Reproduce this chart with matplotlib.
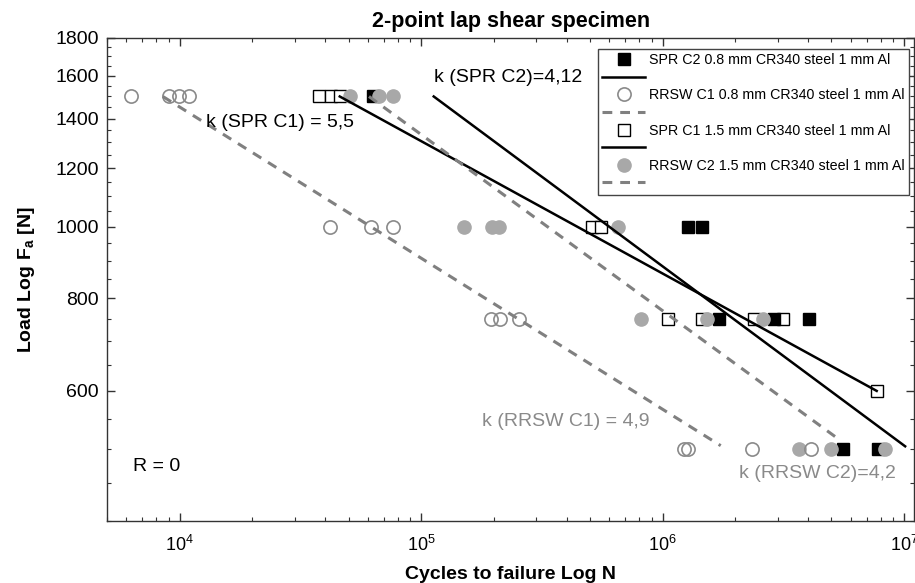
import numpy as np
import matplotlib
matplotlib.use('Agg')
import matplotlib.pyplot as plt
from matplotlib.lines import Line2D
from matplotlib.ticker import FixedLocator, NullFormatter, LogLocator

plt.rcParams['font.family'] = ['Liberation Sans', 'DejaVu Sans']
plt.rcParams['mathtext.fontset'] = 'custom'
plt.rcParams['mathtext.rm'] = 'Liberation Sans'
plt.rcParams['mathtext.bf'] = 'Liberation Sans:bold'
plt.rcParams['mathtext.it'] = 'Liberation Sans:italic'

# ---- data (cycles N, load F in N) ----
spr_c2_N = [63000, 1.27e6, 1.46e6, 1.71e6, 2.88e6, 4.03e6, 5.56e6, 7.83e6]
spr_c2_F = [1500, 1000, 1000, 750, 750, 750, 500, 500]

spr_c1_N = [37700, 42200, 46000, 508000, 553000, 1.05e6, 1.45e6, 2.4e6, 3.14e6, 7.7e6]
spr_c1_F = [1500, 1500, 1500, 1000, 1000, 750, 750, 750, 750, 600]

rrsw_c1_N = [6270, 9000, 9900, 10900, 41800, 61800, 76200,
             194000, 213000, 253000, 1.23e6, 1.27e6, 2.34e6, 4.1e6]
rrsw_c1_F = [1500, 1500, 1500, 1500, 1000, 1000, 1000,
             750, 750, 750, 500, 500, 500, 500]

rrsw_c2_N = [50600, 66700, 76200, 150000, 196000, 210000, 651000,
             811000, 1.52e6, 2.6e6, 3.66e6, 4.96e6, 8.37e6]
rrsw_c2_F = [1500, 1500, 1500, 1000, 1000, 1000, 1000,
             750, 750, 750, 500, 500, 500]

# fitted lines (start / end points)
fit_spr_c2_N = [112700, 1.01e7]
fit_spr_c2_F = [1500, 505]
fit_spr_c1_N = [46000, 7.7e6]
fit_spr_c1_F = [1500, 600]
fit_rrsw_c1_N = [8510, 1.74e6]
fit_rrsw_c1_F = [1500, 506]
fit_rrsw_c2_N = [60800, 5.2e6]
fit_rrsw_c2_F = [1500, 520]

labels = ['SPR C2 0.8 mm CR340 steel 1 mm Al',
          'RRSW C1 0.8 mm CR340 steel 1 mm Al',
          'SPR C1 1.5 mm CR340 steel 1 mm Al',
          'RRSW C2 1.5 mm CR340 steel 1 mm Al']

y_major = [600, 800, 1000, 1200, 1400, 1600, 1800]
y_minor = [v for v in range(400, 1801, 50) if v not in y_major]

GRAY_EDGE = '#8a8a8a'
GRAY_FILL = '#a8a8a8'
GRAY_LINE = '#808080'
GRAY_TEXT = '#8a8a8a'
DASH = (3.2, 2.6)

fig = plt.figure(figsize=(9.15, 5.83), dpi=100)
ax = fig.add_axes([0.117, 0.106, 0.882, 0.829])
ax.set_xscale('log')
ax.set_yscale('log')

ax.plot(spr_c1_N, spr_c1_F, ls='none', marker='s', ms=8.5, mfc='white',
        mec='black', mew=1.0, zorder=2)
ax.plot(spr_c2_N, spr_c2_F, ls='none', marker='s', ms=8.5, mfc='black',
        mec='black', zorder=2)
ax.plot(rrsw_c2_N, rrsw_c2_F, ls='none', marker='o', ms=9.5, mfc=GRAY_FILL,
        mec=GRAY_FILL, zorder=2)
ax.plot(rrsw_c1_N, rrsw_c1_F, ls='none', marker='o', ms=9.5, mfc='none',
        mec=GRAY_EDGE, mew=1.2, zorder=2)

ax.plot(fit_spr_c2_N, fit_spr_c2_F, color='black', lw=1.8, zorder=3)
ax.plot(fit_spr_c1_N, fit_spr_c1_F, color='black', lw=1.8, zorder=3)
ax.plot(fit_rrsw_c1_N, fit_rrsw_c1_F, color=GRAY_LINE, lw=2.2, dashes=DASH, zorder=3)
ax.plot(fit_rrsw_c2_N, fit_rrsw_c2_F, color=GRAY_LINE, lw=2.2, dashes=DASH, zorder=3)

ax.text(12800, 1384, 'k (SPR C1) = 5,5', fontsize=14, va='center', ha='left')
ax.text(112700, 1591, 'k (SPR C2)=4,12', fontsize=14, va='center', ha='left')
ax.text(178000, 545, 'k (RRSW C1) = 4,9', fontsize=14, va='center', ha='left', color=GRAY_TEXT)
ax.text(2.07e6, 464, 'k (RRSW C2)=4,2', fontsize=14, va='center', ha='left', color=GRAY_TEXT)
ax.text(6380, 474, 'R = 0', fontsize=14, va='center', ha='left')

ax.set_xlim(5000, 1.1e7)
ax.set_ylim(400, 1800)

ax.yaxis.set_major_locator(FixedLocator(y_major))
ax.yaxis.set_minor_locator(FixedLocator(y_minor))
ax.set_yticklabels([str(v) for v in y_major])
ax.yaxis.set_minor_formatter(NullFormatter())
ax.xaxis.set_major_locator(LogLocator(base=10, numticks=10))
ax.xaxis.set_minor_locator(LogLocator(base=10, subs=np.arange(2, 10), numticks=20))
ax.xaxis.set_minor_formatter(NullFormatter())

ax.tick_params(which='both', direction='in', top=True, right=True, colors='#333333')
ax.tick_params(which='major', length=6, width=1)
ax.tick_params(which='minor', length=3, width=0.8)
ax.tick_params(axis='y', labelsize=14, labelcolor='black', pad=6)
ax.tick_params(axis='x', labelsize=13, labelcolor='black', pad=10)
for sp in ax.spines.values():
    sp.set_color('#333333')
    sp.set_linewidth(1.0)

ax.set_title('2-point lap shear specimen', fontsize=15.5, fontweight='bold', pad=8)
ax.set_xlabel('Cycles to failure Log N', fontsize=14, fontweight='bold', labelpad=8)
ax.set_ylabel(r'Load Log F$_\mathbf{a}$ [N]', fontsize=14, fontweight='bold', labelpad=13)

handles = [
    Line2D([], [], ls='none', marker='s', ms=8.5, mfc='black', mec='black'),
    Line2D([], [], color='black', lw=1.8),
    Line2D([], [], ls='none', marker='o', ms=9.5, mfc='none', mec=GRAY_EDGE, mew=1.2),
    Line2D([], [], color=GRAY_LINE, lw=2.2, dashes=DASH),
    Line2D([], [], ls='none', marker='s', ms=8.5, mfc='white', mec='black'),
    Line2D([], [], color='black', lw=1.8),
    Line2D([], [], ls='none', marker='o', ms=9.5, mfc=GRAY_FILL, mec=GRAY_FILL),
    Line2D([], [], color=GRAY_LINE, lw=2.2, dashes=DASH),
]
leg_labels = [labels[0], '', labels[1], '', labels[2], '', labels[3], '']
leg = ax.legend(handles, leg_labels, loc='upper right', bbox_to_anchor=(0.994, 0.977),
                fontsize=10.3, frameon=True, fancybox=False, framealpha=1,
                edgecolor='#444444', handlelength=3.0, handletextpad=0.3,
                labelspacing=0.25, borderpad=0.3, borderaxespad=0)
leg.get_frame().set_linewidth(1.0)

fig.savefig('out.png', dpi=100)
